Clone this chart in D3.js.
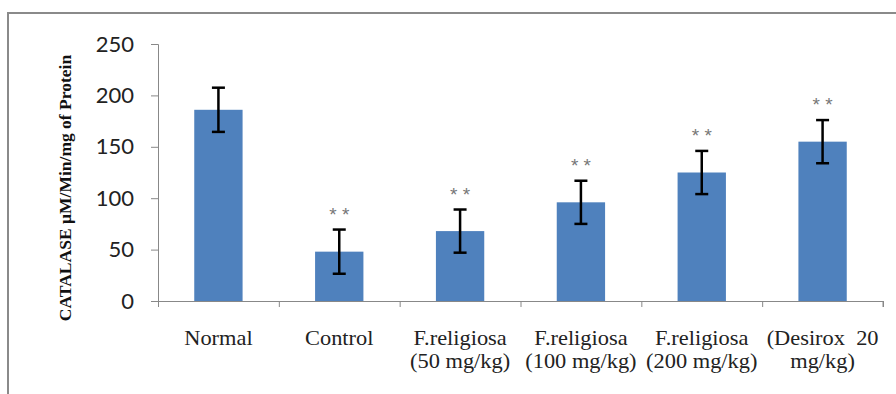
<!DOCTYPE html>
<html>
<head>
<meta charset="utf-8">
<script src="https://cdn.jsdelivr.net/npm/d3@7"></script>
<style>
  body { margin: 0; background: #fff; }
</style>
</head>
<body>
<div id="chart"></div>
<script>
// groups on the x axis (two lines each)
var groups = ["Normal", "Control", "F.religiosa 50", "F.religiosa 100", "F.religiosa 200", "Desirox 20"];
var labelLine1 = ["Normal", "Control", "F.religiosa", "F.religiosa", "F.religiosa", "(Desirox  20"];
var labelLine2 = ["", "", "(50 mg/kg)", "(100 mg/kg)", "(200 mg/kg)", "mg/kg)"];
var catalase = [186, 48, 68, 96, 125, 155];
var errors = [21.5, 21.5, 21, 21, 21, 21];
var marks = ["", "**", "**", "**", "**", "**"];
var yTicks = [0, 50, 100, 150, 200, 250];

var svgWidth = 896;
var svgHeight = 394;

var margin = { top: 44, right: 13, bottom: 93, left: 158 };
var width = svgWidth - margin.left - margin.right;
var height = svgHeight - margin.top - margin.bottom;

var svg = d3.select("#chart")
    .append("svg")
    .attr("width", svgWidth)
    .attr("height", svgHeight);

// frame (only top and left are visible in the crop)
svg.append("path")
    .attr("d", "M8,394 L8,13 L896,13")
    .attr("fill", "none")
    .attr("stroke", "#8a8a8a")
    .attr("stroke-width", 2);

var chartGroup = svg.append("g")
    .attr("transform", `translate(${margin.left}, ${margin.top})`);

var xScale = d3.scaleBand()
    .domain(groups)
    .range([0, width])
    .paddingInner(0.6)
    .paddingOuter(0.3);

var yScale = d3.scaleLinear()
    .domain([0, 250])
    .range([height, 0]);

// y axis
var leftAxis = d3.axisLeft(yScale)
    .tickValues(yTicks)
    .tickSize(7)
    .tickPadding(17);

var yAxis = chartGroup.append("g")
    .call(leftAxis);
yAxis.select(".domain").attr("stroke", "#888").attr("d", `M-7,0.5H0.5V${height}`);
yAxis.selectAll(".tick line").attr("stroke", "#888");
yAxis.selectAll("text")
    .style("font-family", "Lato, 'Open Sans', sans-serif")
    .style("font-size", "22px")
    .attr("fill", "#222");

// x axis with ticks between categories
var bottomAxis = d3.axisBottom(d3.scaleLinear().domain([0, groups.length]).range([0, width]))
    .tickValues(d3.range(groups.length + 1))
    .tickSize(6)
    .tickFormat("");
var xAxis = chartGroup.append("g")
    .attr("transform", `translate(0, ${height})`)
    .call(bottomAxis);
xAxis.select(".domain").attr("stroke", "#888").attr("d", `M-7,0.5H${width}V6`);
xAxis.selectAll(".tick line").attr("stroke", "#888");

// bars
chartGroup.selectAll(".bar")
    .data(groups)
    .enter()
    .append("rect")
    .attr("class", "bar")
    .attr("x", function(d) { return xScale(d); })
    .attr("width", xScale.bandwidth())
    .attr("y", function(d, i) { return yScale(catalase[i]); })
    .attr("height", function(d, i) { return height - yScale(catalase[i]); })
    .attr("fill", "#4f81bd");

// error bars
var err = chartGroup.selectAll(".err")
    .data(groups)
    .enter()
    .append("g")
    .attr("class", "err")
    .attr("transform", function(d) { return `translate(${xScale(d) + xScale.bandwidth() / 2}, 0)`; });

err.append("line")
    .attr("y1", function(d, i) { return yScale(catalase[i] + errors[i]); })
    .attr("y2", function(d, i) { return yScale(catalase[i] - errors[i]); })
    .attr("stroke", "#000")
    .attr("stroke-width", 2.5);
err.append("line")
    .attr("x1", -6.5).attr("x2", 6.5)
    .attr("y1", function(d, i) { return yScale(catalase[i] + errors[i]); })
    .attr("y2", function(d, i) { return yScale(catalase[i] + errors[i]); })
    .attr("stroke", "#000")
    .attr("stroke-width", 2.5);
err.append("line")
    .attr("x1", -6.5).attr("x2", 6.5)
    .attr("y1", function(d, i) { return yScale(catalase[i] - errors[i]); })
    .attr("y2", function(d, i) { return yScale(catalase[i] - errors[i]); })
    .attr("stroke", "#000")
    .attr("stroke-width", 2.5);

// significance marks
err.append("text")
    .attr("y", function(d, i) { return yScale(catalase[i] + errors[i]) - 9; })
    .attr("text-anchor", "middle")
    .style("font-family", "'Liberation Sans', sans-serif")
    .style("font-size", "19px")
    .attr("fill", "#777")
    .text(function(d, i) { return marks[i].split("").join(" "); });

// category labels (slightly stretched like the source picture)
var labels = chartGroup.selectAll(".xlabel")
    .data(groups)
    .enter()
    .append("text")
    .attr("class", "xlabel")
    .attr("text-anchor", "middle")
    .attr("transform", function(d) { return `translate(${xScale(d) + xScale.bandwidth() / 2}, ${height + 44}) scale(1.12, 1)`; })
    .style("font-family", "'Liberation Serif', 'Times New Roman', serif")
    .style("font-size", "20px")
    .attr("fill", "#222");
labels.append("tspan")
    .attr("x", 0)
    .attr("y", 0)
    .attr("xml:space", "preserve")
    .text(function(d, i) { return labelLine1[i]; });
labels.append("tspan")
    .attr("x", 0)
    .attr("y", 23)
    .text(function(d, i) { return labelLine2[i]; });

// y axis title
svg.append("text")
    .attr("transform", "translate(71, 188) rotate(-90)")
    .attr("text-anchor", "middle")
    .style("font-family", "'Liberation Serif', 'Times New Roman', serif")
    .style("font-weight", "bold")
    .style("font-size", "17.5px")
    .attr("fill", "#111")
    .text("CATALASE \u00b5M/Min/mg of Protein");
</script>
</body>
</html>
